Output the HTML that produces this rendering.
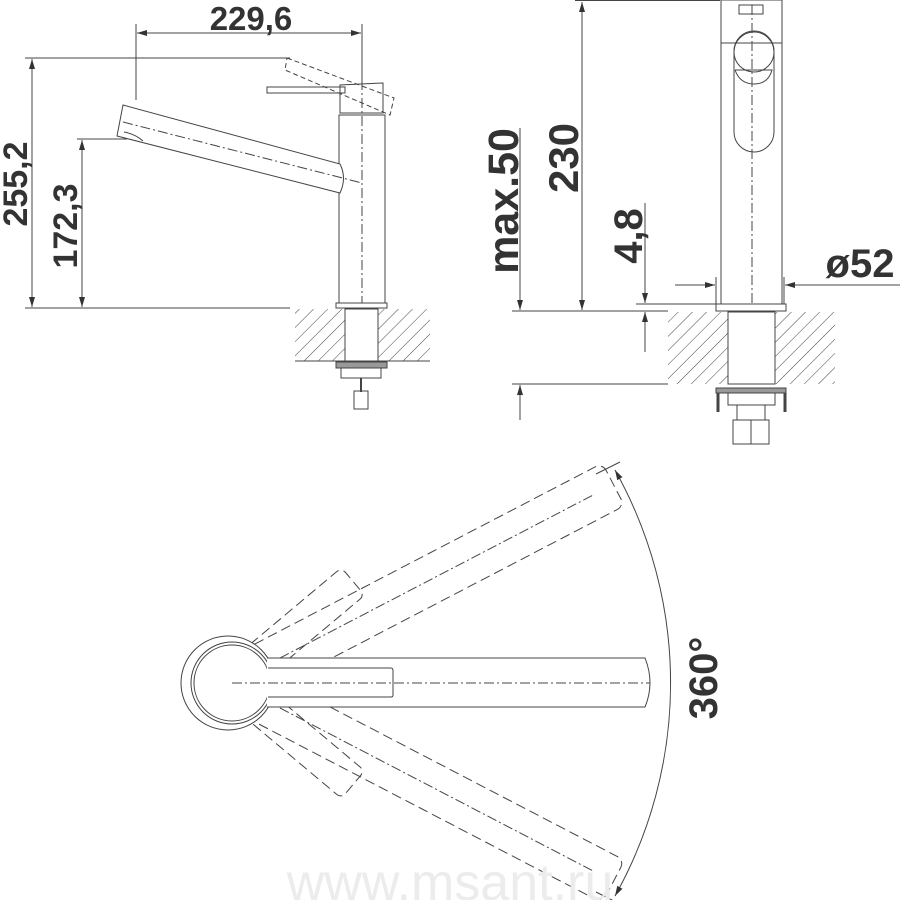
<!DOCTYPE html>
<html><head><meta charset="utf-8"><style>
html,body{margin:0;padding:0;background:#fff}
svg{display:block}
text{font-family:"Liberation Sans",sans-serif;font-weight:bold;fill:#333}
</style></head><body>
<svg width="900" height="900" viewBox="0 0 900 900" xmlns="http://www.w3.org/2000/svg">
<defs>
<pattern id="h" width="10" height="10" patternUnits="userSpaceOnUse" patternTransform="rotate(45)">
<line x1="0" y1="0" x2="0" y2="10" stroke="#444" stroke-width="1"/>
</pattern>
<marker id="a" viewBox="0 0 10 10" refX="10" refY="5" markerWidth="10" markerHeight="10" orient="auto-start-reverse" markerUnits="userSpaceOnUse">
<path d="M0,2 L10,5 L0,8 z" fill="#333"/>
</marker>
</defs>
<g stroke="#444" stroke-width="1" fill="none">
<!-- LEFT VIEW dims -->
<line x1="136" y1="24" x2="136" y2="100"/>
<line x1="362" y1="24" x2="362" y2="80"/>
<line x1="137" y1="33" x2="361" y2="33" marker-start="url(#a)" marker-end="url(#a)"/>
<line x1="25" y1="58" x2="290" y2="58"/>
<line x1="25" y1="308" x2="290" y2="308"/>
<line x1="32" y1="59" x2="32" y2="307" marker-start="url(#a)" marker-end="url(#a)"/>
<line x1="77" y1="139" x2="127" y2="139"/>
<line x1="82" y1="140" x2="82" y2="307" marker-start="url(#a)" marker-end="url(#a)"/>
<!-- left faucet -->
<rect x="339" y="115" width="46" height="188"/>
<rect x="336" y="303" width="51" height="5"/>
<path d="M340,113 L340,85 L383,83 L383,113 Z"/>
<rect x="267" y="87" width="78" height="6"/>
<path d="M287,58 L394,98 L390,115 L285,70 Z" stroke-dasharray="5,3"/>
<path d="M123,105 L340,164 Q347,178 340,193 L117,136 Z" fill="#fff"/>
<path d="M124,132 Q135,134 143,141" />
<line x1="123" y1="122" x2="362" y2="183" stroke-dasharray="10,3,2,3"/>
<line x1="362" y1="80" x2="362" y2="303" stroke-dasharray="10,3,2,3"/>
<rect x="295" y="309" width="50" height="52" fill="url(#h)" stroke="none"/>
<rect x="378" y="309" width="52" height="52" fill="url(#h)" stroke="none"/>
<line x1="295" y1="361" x2="430" y2="361"/>
<rect x="345" y="309" width="33" height="52"/>
<rect x="336" y="362" width="51" height="6" fill="#999"/>
<rect x="341" y="368" width="40" height="10"/>
<line x1="361" y1="378" x2="361" y2="392" stroke-width="2"/>
<rect x="354" y="391" width="14" height="18"/>
<!-- RIGHT VIEW dims -->
<line x1="575" y1="0.5" x2="720" y2="0.5"/>
<line x1="582" y1="2" x2="582" y2="310" marker-start="url(#a)" marker-end="url(#a)"/>
<line x1="512" y1="311" x2="668" y2="311"/>
<line x1="512" y1="384" x2="668" y2="384"/>
<line x1="520" y1="128" x2="520" y2="310" marker-end="url(#a)"/>
<line x1="520" y1="420" x2="520" y2="385" marker-end="url(#a)"/>
<line x1="636" y1="304" x2="720" y2="304"/>
<line x1="645" y1="203" x2="645" y2="303" marker-end="url(#a)"/>
<line x1="645" y1="352" x2="645" y2="312" marker-end="url(#a)"/>
<line x1="716" y1="277" x2="716" y2="304"/>
<line x1="784" y1="277" x2="784" y2="304"/>
<line x1="675" y1="285" x2="715" y2="285" marker-end="url(#a)"/>
<line x1="900" y1="285" x2="785" y2="285" marker-end="url(#a)"/>
<!-- right faucet -->
<rect x="721" y="0" width="61" height="304"/>
<line x1="721" y1="43" x2="782" y2="43"/>
<rect x="739" y="5" width="24" height="9"/>
<rect x="734" y="31" width="40" height="121" rx="20"/>
<circle cx="754" cy="52" r="20"/>
<path d="M735,70 L772,70 Q768,84 754,84 Q740,84 735,70"/>
<line x1="752" y1="5" x2="752" y2="304" stroke-dasharray="10,3,2,3"/>
<rect x="716" y="304" width="70" height="7"/>
<rect x="668" y="312" width="60" height="72" fill="url(#h)" stroke="none"/>
<rect x="775" y="312" width="60" height="72" fill="url(#h)" stroke="none"/>
<rect x="728" y="312" width="47" height="72"/>
<rect x="716" y="388" width="70" height="5" fill="#999"/>
<rect x="728" y="393" width="47" height="12"/>
<line x1="718" y1="393" x2="718" y2="412" stroke-width="3"/>
<line x1="785" y1="393" x2="785" y2="412" stroke-width="3"/>
<rect x="737" y="405" width="28" height="15"/>
<rect x="733" y="420" width="18" height="24"/>
<rect x="751" y="420" width="18" height="24"/>
<!-- BOTTOM VIEW -->
<g stroke-dasharray="10,5">
<g transform="rotate(-27.5 232 683)"><rect x="262" y="659" width="400" height="48" rx="8"/></g>
<g transform="rotate(27.5 232 683)"><rect x="262" y="659" width="400" height="48" rx="8"/></g>
<g transform="rotate(-40 232 683)"><rect x="265" y="665" width="125" height="36" rx="6"/></g>
<g transform="rotate(40 232 683)"><rect x="265" y="665" width="125" height="36" rx="6"/></g>
</g>
<g stroke-dasharray="10,3,2,3">
<g transform="rotate(-27.5 232 683)"><line x1="232" y1="683" x2="640" y2="683"/></g>
<g transform="rotate(27.5 232 683)"><line x1="232" y1="683" x2="640" y2="683"/></g>
</g>
<circle cx="228" cy="683" r="47" fill="#fff"/>
<circle cx="232" cy="683" r="41"/>
<circle cx="232" cy="683" r="38" fill="#fff"/>
<path d="M267,658 L645,658 Q655,683 645,707 L267,707" fill="#fff"/>
<path d="M268,668 L391,668 Q393,668 393,671 L393,695 Q393,697 391,697 L268,697"/>
<line x1="232" y1="683" x2="650" y2="683" stroke-dasharray="10,3,2,3"/>
<line x1="596" y1="474" x2="620" y2="462"/>
<line x1="596" y1="892" x2="620" y2="904"/>
<path d="M615,470 A436 436 0 0 1 615,896" marker-start="url(#a)" marker-end="url(#a)"/>
</g>
<text x="251" y="30" font-size="33" text-anchor="middle">229,6</text>
<text transform="translate(27,184) rotate(-90)" font-size="34" text-anchor="middle">255,2</text>
<text transform="translate(77,226) rotate(-90)" font-size="34" text-anchor="middle">172,3</text>
<text transform="translate(578,158) rotate(-90)" font-size="42" text-anchor="middle">230</text>
<text transform="translate(518,201) rotate(-90)" font-size="43" text-anchor="middle">max.50</text>
<text transform="translate(642,236) rotate(-90)" font-size="40" text-anchor="middle">4,8</text>
<text x="860" y="277" font-size="40" text-anchor="middle">ø52</text>
<text transform="translate(717,678) rotate(-90)" font-size="40" text-anchor="middle">360°</text>
<text x="450" y="900" font-size="52" text-anchor="middle" style="font-weight:normal;fill:#ececec">www.msant.ru</text>
</svg>
</body></html>
